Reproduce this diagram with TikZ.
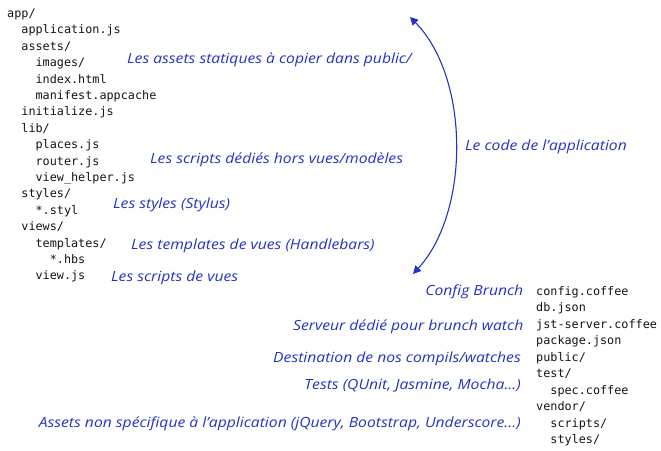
\documentclass[tikz,border=0pt]{standalone}
\usepackage{fontspec}
\setmonofont{DejaVu Sans Mono}
\newfontfamily\handfont{Open Sans}[FakeStretch=1.12]
\usetikzlibrary{arrows.meta}
\definecolor{handblue}{RGB}{35,50,195}
\definecolor{treegray}{RGB}{20,20,20}
\tikzset{
  file/.style={anchor=base west, inner sep=0pt, font=\ttfamily\fontsize{11.8}{13}\selectfont, text=treegray},
  note/.style={anchor=base west, inner sep=0pt, font=\handfont\itshape\fontsize{14}{16}\selectfont, text=handblue},
  noteR/.style={note, anchor=base east},
  arc/.style={draw=handblue, line width=1.1pt, {Triangle[length=8pt,width=8pt]}-{Triangle[length=8pt,width=8pt]}}
}
\begin{document}
\begin{tikzpicture}[x=1pt,y=-1pt]
\useasboundingbox (0,0) rectangle (661,450);
% left tree
\node[file] (app) at (7,17.5) {app/};
\node[file] (appjs) at (21.2,33.9) {application.js};
\node[file] (assets) at (21.2,50.3) {assets/};
\node[file] (images) at (35.4,66.7) {images/};
\node[file] (index) at (35.4,83.1) {index.html};
\node[file] (manifest) at (35.4,99.5) {manifest.appcache};
\node[file] (init) at (21.2,115.9) {initialize.js};
\node[file] (lib) at (21.2,132.3) {lib/};
\node[file] (places) at (35.4,148.7) {places.js};
\node[file] (router) at (35.4,165.1) {router.js};
\node[file] (viewhelper) at (35.4,181.5) {view\_helper.js};
\node[file] (styles) at (21.2,197.9) {styles/};
\node[file] (styl) at (35.4,214.3) {*.styl};
\node[file] (views) at (21.2,230.7) {views/};
\node[file] (templates) at (35.4,247.1) {templates/};
\node[file] (hbs) at (49.6,263.5) {*.hbs};
\node[file] (viewjs) at (35.4,279.9) {view.js};
% right tree
\node[file] (config) at (536,295) {config.coffee};
\node[file] (db) at (536,311.5) {db.json};
\node[file] (jst) at (536,328) {jst-server.coffee};
\node[file] (package) at (536,344.5) {package.json};
\node[file] (public) at (536,361) {public/};
\node[file] (test) at (536,377.5) {test/};
\node[file] (spec) at (550.2,394) {spec.coffee};
\node[file] (vendor) at (536,410.5) {vendor/};
\node[file] (scripts) at (550.2,427) {scripts/};
\node[file] (vstyles) at (550.2,443.5) {styles/};
% notes
\node[note] (n1) at (127,63.5) {Les assets statiques à copier dans public/};
\node[note] (n2) at (150,163) {Les scripts dédiés hors vues/modèles};
\node[note] (n3) at (113,208.5) {Les styles (Stylus)};
\node[note] (n4) at (131,249.3) {Les templates de vues (Handlebars)};
\node[note] (n5) at (111,281.7) {Les scripts de vues};
\node[note] (n6) at (465,150) {Le code de l’application};
\node[noteR] (n7) at (523.5,295.7) {Config Brunch};
\node[noteR] (n8) at (523.5,330) {Serveur dédié pour brunch watch};
\node[noteR] (n9) at (521,362.3) {Destination de nos compils/watches};
\node[noteR] (n10) at (521,389) {Tests (QUnit, Jasmine, Mocha...)};
\node[noteR] (n11) at (521,427.3) {Assets non spécifique à l’application (jQuery, Bootstrap, Underscore...)};
% arc
\coordinate (atop) at (410,17);
\coordinate (abot) at (413,274);
\draw[arc] (atop) .. controls (470,78) and (470,212) .. (abot);
\end{tikzpicture}
\end{document}
